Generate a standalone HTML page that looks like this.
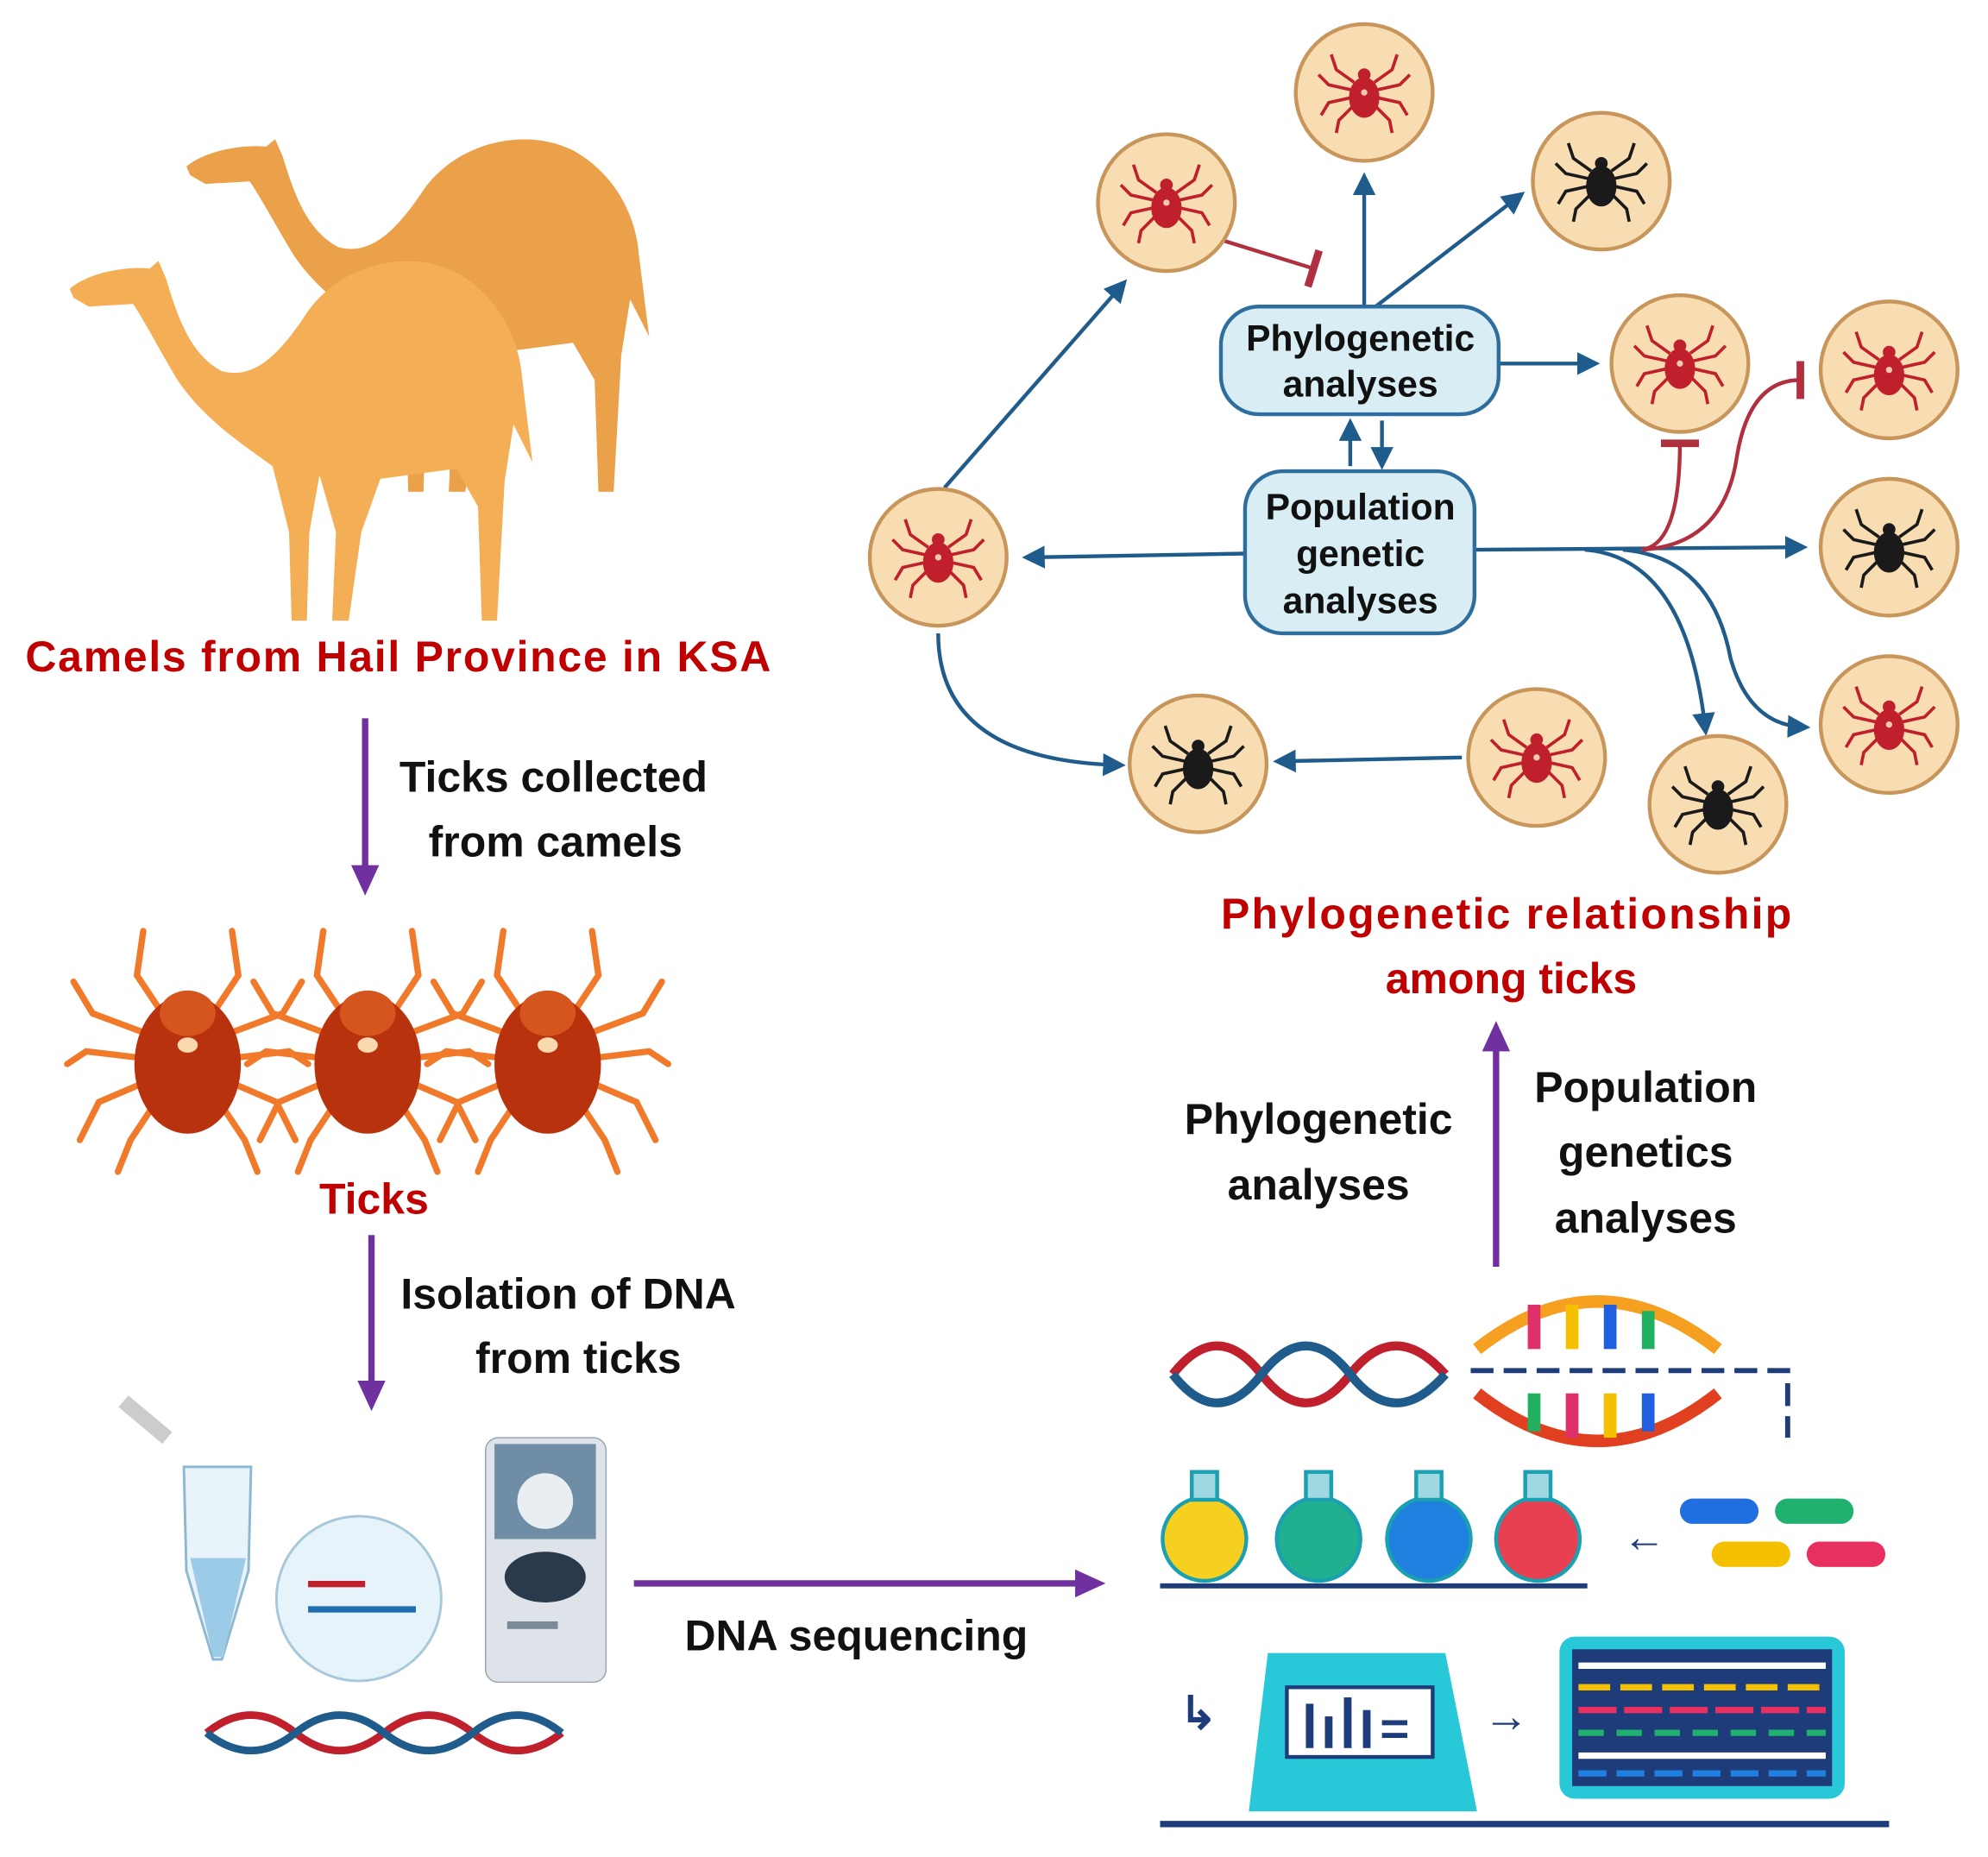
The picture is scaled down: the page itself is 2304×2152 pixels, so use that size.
<!DOCTYPE html>
<html><head><meta charset="utf-8"><style>
html,body{margin:0;padding:0;background:#fff;}
svg{display:block}
text{font-family:"Liberation Sans",sans-serif;font-weight:bold}
</style></head><body>
<svg width="2304" height="2152" viewBox="0 0 1568 1466" preserveAspectRatio="none" xmlns="http://www.w3.org/2000/svg">
<defs>
<marker id="pa" markerWidth="24" markerHeight="22" refX="12" refY="11" orient="auto" markerUnits="userSpaceOnUse"><path d="M0,0 L24,11 L0,22 Z" fill="#7030A0"/></marker>
<marker id="ba" markerWidth="6" markerHeight="6" refX="4" refY="3" orient="auto" markerUnits="strokeWidth"><path d="M0,0 L6,3 L0,6 Z" fill="#1F5C8B"/></marker>
<marker id="rt" markerWidth="4" markerHeight="10" refX="2" refY="5" orient="auto" markerUnits="strokeWidth"><path d="M2,0 L2,10" stroke="#B03040" stroke-width="2"/></marker>
<g id="tickR">
<g stroke="#C0202C" stroke-width="2.5" fill="none">
<path d="M-8,-8 L-22,-18 L-26,-30"/><path d="M8,-8 L22,-18 L26,-30"/>
<path d="M-10,-2 L-28,-6 L-36,-14"/><path d="M10,-2 L28,-6 L36,-14"/>
<path d="M-10,4 L-28,8 L-34,18"/><path d="M10,4 L28,8 L34,18"/>
<path d="M-8,10 L-20,22 L-22,32"/><path d="M8,10 L20,22 L22,32"/>
</g>
<ellipse cx="0" cy="4" rx="12" ry="16" fill="#C0202C"/><circle cx="0" cy="-14" r="5" fill="#C0202C"/><circle cx="0" cy="0" r="2.5" fill="#f3c9b0"/>
</g>
<g id="tickB">
<g stroke="#1a1a1a" stroke-width="2.5" fill="none">
<path d="M-8,-8 L-22,-18 L-26,-30"/><path d="M8,-8 L22,-18 L26,-30"/>
<path d="M-10,-2 L-28,-6 L-36,-14"/><path d="M10,-2 L28,-6 L36,-14"/>
<path d="M-10,4 L-28,8 L-34,18"/><path d="M10,4 L28,8 L34,18"/>
<path d="M-8,10 L-20,22 L-22,32"/><path d="M8,10 L20,22 L22,32"/>
</g>
<ellipse cx="0" cy="4" rx="12" ry="16" fill="#1a1a1a"/><circle cx="0" cy="-14" r="5" fill="#1a1a1a"/>
</g>
<g id="bigtick">
<g stroke="#F07A2A" stroke-width="5" fill="none" stroke-linecap="round">
<path d="M-20,-30 L-40,-60 L-35,-95"/><path d="M20,-30 L40,-60 L35,-95"/>
<path d="M-35,-15 L-75,-30 L-90,-55"/><path d="M35,-15 L75,-30 L90,-55"/>
<path d="M-38,5 L-80,0 L-95,10"/><path d="M38,5 L80,0 L95,10"/>
<path d="M-35,25 L-70,40 L-85,70"/><path d="M35,25 L70,40 L85,70"/>
<path d="M-25,40 L-45,70 L-55,95"/><path d="M25,40 L45,70 L55,95"/>
</g>
<ellipse cx="0" cy="10" rx="42" ry="55" fill="#B8320E"/>
<ellipse cx="0" cy="-30" rx="22" ry="18" fill="#D4551E"/>
<ellipse cx="0" cy="-5" rx="8" ry="6" fill="#FAD9B0"/>
</g>
<g id="circ"><circle r="54" fill="#F8DDB3" stroke="#C8965A" stroke-width="3"/></g>
<path id="camel" d="M55,228 C70,215 100,210 118,212 L125,206 L131,220 C140,250 150,280 175,293 C200,300 220,280 240,250 C265,210 320,195 360,215 C395,235 410,270 412,300 L420,365 L405,335 L398,380 L392,490 L380,490 L377,400 L360,370 L300,378 L285,420 L275,490 L262,490 L265,420 L252,375 L244,420 L242,490 L230,490 L228,420 L215,368 C190,350 160,330 140,300 C125,275 115,255 105,240 L70,242 L58,235 Z"/>
</defs>

<!-- Camels -->
<use href="#camel" fill="#EBA04A" transform="translate(92,-92) scale(1,0.98)"/>
<use href="#camel" fill="#F4AE55"/>
<text x="20" y="530" font-size="34" fill="#C00000" textLength="588">Camels from Hail Province in KSA</text>

<line x1="288" y1="567" x2="288" y2="695" stroke="#7030A0" stroke-width="5" marker-end="url(#pa)"/>
<text x="315" y="625" font-size="34" fill="#111">Ticks collected</text>
<text x="338" y="676" font-size="34" fill="#111">from camels</text>

<use href="#bigtick" x="148" y="830"/><use href="#bigtick" x="290" y="830"/><use href="#bigtick" x="432" y="830"/>
<text x="295" y="958" font-size="34" fill="#C00000" text-anchor="middle">Ticks</text>

<line x1="293" y1="975" x2="293" y2="1102" stroke="#7030A0" stroke-width="5" marker-end="url(#pa)"/>
<text x="316" y="1033" font-size="34" fill="#111">Isolation of DNA</text>
<text x="375" y="1084" font-size="34" fill="#111">from ticks</text>

<!-- lab -->
<rect x="92" y="1115" width="45" height="12" fill="#ccc" transform="rotate(40 115 1121)"/>
<path d="M145,1158 L198,1158 L196,1240 L175,1310 L168,1310 L147,1240 Z" fill="#E8F4FA" stroke="#8CB8D0" stroke-width="2"/>
<path d="M150,1230 L194,1230 L176,1308 L168,1308 Z" fill="#9CCBE8"/>
<circle cx="283" cy="1262" r="65" fill="#E6F3FA" stroke="#A8C8DA" stroke-width="2"/>
<rect x="243" y="1248" width="45" height="5" fill="#C0202C"/><rect x="243" y="1268" width="85" height="5" fill="#1F6FB0"/>
<rect x="383" y="1135" width="95" height="193" rx="10" fill="#DDE3E8" stroke="#9AA4AC"/>
<rect x="390" y="1140" width="80" height="75" fill="#6F8EA6"/>
<circle cx="430" cy="1185" r="22" fill="#E8EEF2"/>
<ellipse cx="430" cy="1245" rx="32" ry="20" fill="#2a3a4a"/>
<rect x="400" y="1280" width="40" height="6" fill="#7a8a96"/>
<g fill="none" stroke-width="6"><path d="M163,1368 Q198,1340 233,1368 T303,1368 T373,1368 T443,1368" stroke="#C0202C"/><path d="M163,1368 Q198,1396 233,1368 T303,1368 T373,1368 T443,1368" stroke="#1F5C8B"/></g>

<line x1="500" y1="1250" x2="860" y2="1250" stroke="#7030A0" stroke-width="5" marker-end="url(#pa)"/>
<text x="540" y="1303" font-size="34" fill="#111">DNA sequencing</text>

<!-- sequencing graphic -->
<g fill="none" stroke-width="7"><path d="M925,1085 Q960,1040 995,1085 T1065,1085 T1140,1085" stroke="#C0202C"/><path d="M925,1085 Q960,1130 995,1085 T1065,1085 T1140,1085" stroke="#1F5C8B"/></g>
<path d="M1165,1065 Q1260,990 1355,1065" fill="none" stroke="#F5A020" stroke-width="10"/>
<path d="M1165,1100 Q1260,1175 1355,1100" fill="none" stroke="#E04020" stroke-width="10"/>
<g><rect x="1205" y="1030" width="10" height="35" fill="#E0306A"/><rect x="1235" y="1030" width="10" height="35" fill="#F5C000"/><rect x="1265" y="1030" width="10" height="35" fill="#2060E0"/><rect x="1295" y="1035" width="10" height="30" fill="#20B060"/>
<rect x="1205" y="1100" width="10" height="30" fill="#20B060"/><rect x="1235" y="1100" width="10" height="35" fill="#E0306A"/><rect x="1265" y="1100" width="10" height="35" fill="#F5C000"/><rect x="1295" y="1100" width="10" height="30" fill="#2060E0"/></g>
<path d="M1160,1082 L1410,1082 L1410,1135" fill="none" stroke="#1F3C7A" stroke-width="4" stroke-dasharray="18,8"/>
<g stroke="#1aa0b0" stroke-width="3">
<circle cx="950" cy="1215" r="33" fill="#F5D020"/><circle cx="1040" cy="1215" r="33" fill="#20B090"/><circle cx="1127" cy="1215" r="33" fill="#2080E0"/><circle cx="1213" cy="1215" r="33" fill="#E84050"/>
<rect x="940" y="1162" width="20" height="22" fill="#9ED8E0"/><rect x="1030" y="1162" width="20" height="22" fill="#9ED8E0"/><rect x="1117" y="1162" width="20" height="22" fill="#9ED8E0"/><rect x="1203" y="1162" width="20" height="22" fill="#9ED8E0"/>
</g>
<line x1="915" y1="1252" x2="1252" y2="1252" stroke="#1F3C7A" stroke-width="4"/>
<text x="1280" y="1225" font-size="34" fill="#1F3C7A">←</text>
<rect x="1325" y="1183" width="62" height="20" rx="10" fill="#1F6FE0"/><rect x="1400" y="1183" width="62" height="20" rx="10" fill="#20B070"/>
<rect x="1350" y="1217" width="62" height="20" rx="10" fill="#F5C000"/><rect x="1425" y="1217" width="62" height="20" rx="10" fill="#E83060"/>
<text x="930" y="1365" font-size="36" fill="#1F3C7A">↳</text>
<path d="M1000,1305 L1140,1305 L1165,1430 L985,1430 Z" fill="#28C8D8"/>
<rect x="1015" y="1332" width="115" height="55" fill="#fff" stroke="#1F3C7A" stroke-width="3"/>
<g fill="#1F3C7A"><rect x="1030" y="1345" width="6" height="35"/><rect x="1045" y="1355" width="6" height="25"/><rect x="1060" y="1340" width="6" height="40"/><rect x="1075" y="1350" width="6" height="30"/><rect x="1090" y="1358" width="20" height="4"/><rect x="1090" y="1368" width="20" height="4"/></g>
<text x="1170" y="1367" font-size="36" fill="#1F3C7A">→</text>
<rect x="1230" y="1292" width="225" height="128" rx="12" fill="#28C8D8"/>
<rect x="1240" y="1302" width="205" height="108" fill="#1F3C7A"/>
<g stroke-width="5"><line x1="1245" y1="1315" x2="1440" y2="1315" stroke="#fff"/><line x1="1245" y1="1332" x2="1440" y2="1332" stroke="#F5C000" stroke-dasharray="25,8"/><line x1="1245" y1="1350" x2="1440" y2="1350" stroke="#E83060" stroke-dasharray="30,6"/><line x1="1245" y1="1368" x2="1440" y2="1368" stroke="#20B070" stroke-dasharray="20,10"/><line x1="1245" y1="1386" x2="1440" y2="1386" stroke="#fff"/><line x1="1245" y1="1400" x2="1440" y2="1400" stroke="#2080E0" stroke-dasharray="22,8"/></g>
<line x1="915" y1="1440" x2="1490" y2="1440" stroke="#1F3C7A" stroke-width="5"/>

<line x1="1180" y1="1000" x2="1180" y2="818" stroke="#7030A0" stroke-width="5" marker-end="url(#pa)"/>
<text x="1040" y="895" font-size="34" fill="#111" text-anchor="middle">Phylogenetic</text>
<text x="1040" y="947" font-size="34" fill="#111" text-anchor="middle">analyses</text>
<text x="1298" y="870" font-size="34" fill="#111" text-anchor="middle">Population</text>
<text x="1298" y="921" font-size="34" fill="#111" text-anchor="middle">genetics</text>
<text x="1298" y="973" font-size="34" fill="#111" text-anchor="middle">analyses</text>
<text x="1188" y="733" font-size="34" fill="#C00000" text-anchor="middle" textLength="450">Phylogenetic relationship</text>
<text x="1192" y="784" font-size="34" fill="#C00000" text-anchor="middle">among ticks</text>

<!-- network -->
<g fill="none" stroke="#1F5C8B" stroke-width="3" marker-end="url(#ba)">
<line x1="745" y1="385" x2="885" y2="225"/>
<line x1="1076" y1="242" x2="1076" y2="142"/>
<line x1="1085" y1="242" x2="1198" y2="155"/>
<line x1="1182" y1="287" x2="1256" y2="287"/>
<line x1="1065" y1="368" x2="1065" y2="336"/>
<line x1="1090" y1="332" x2="1090" y2="365"/>
<line x1="982" y1="437" x2="812" y2="440"/>
<line x1="1163" y1="434" x2="1420" y2="432"/>
<path d="M1250,434 Q1330,440 1345,575"/>
<path d="M1280,434 Q1350,440 1365,520 Q1380,572 1422,574"/>
<path d="M740,500 Q740,600 882,604"/>
<line x1="1153" y1="598" x2="1010" y2="601"/>
</g>
<g fill="none" stroke="#B03040" stroke-width="3">
<path d="M965,190 L1036,212" marker-end="url(#rt)"/>
<path d="M1295,434 Q1325,430 1325,350" marker-end="url(#rt)"/>
<path d="M1295,434 Q1360,430 1370,360 Q1380,300 1420,300" marker-end="url(#rt)"/>
</g>
<rect x="963" y="242" width="219" height="85" rx="30" fill="#D8EEF4" stroke="#2E6E9E" stroke-width="3"/>
<text x="1073" y="277" font-size="29" fill="#111" text-anchor="middle">Phylogenetic</text>
<text x="1073" y="313" font-size="29" fill="#111" text-anchor="middle">analyses</text>
<rect x="982" y="372" width="181" height="128" rx="30" fill="#D8EEF4" stroke="#2E6E9E" stroke-width="3"/>
<text x="1073" y="410" font-size="29" fill="#111" text-anchor="middle">Population</text>
<text x="1073" y="447" font-size="29" fill="#111" text-anchor="middle">genetic</text>
<text x="1073" y="484" font-size="29" fill="#111" text-anchor="middle">analyses</text>

<g><use href="#circ" x="920" y="160"/><use href="#tickR" x="920" y="160"/>
<use href="#circ" x="1076" y="73"/><use href="#tickR" x="1076" y="73"/>
<use href="#circ" x="1263" y="143"/><use href="#tickB" x="1263" y="143"/>
<use href="#circ" x="1325" y="287"/><use href="#tickR" x="1325" y="287"/>
<use href="#circ" x="1490" y="292"/><use href="#tickR" x="1490" y="292"/>
<use href="#circ" x="1490" y="432"/><use href="#tickB" x="1490" y="432"/>
<use href="#circ" x="1490" y="572"/><use href="#tickR" x="1490" y="572"/>
<use href="#circ" x="1355" y="635"/><use href="#tickB" x="1355" y="635"/>
<use href="#circ" x="1212" y="598"/><use href="#tickR" x="1212" y="598"/>
<use href="#circ" x="945" y="603"/><use href="#tickB" x="945" y="603"/>
<use href="#circ" x="740" y="440"/><use href="#tickR" x="740" y="440"/></g>
</svg>
</body></html>
